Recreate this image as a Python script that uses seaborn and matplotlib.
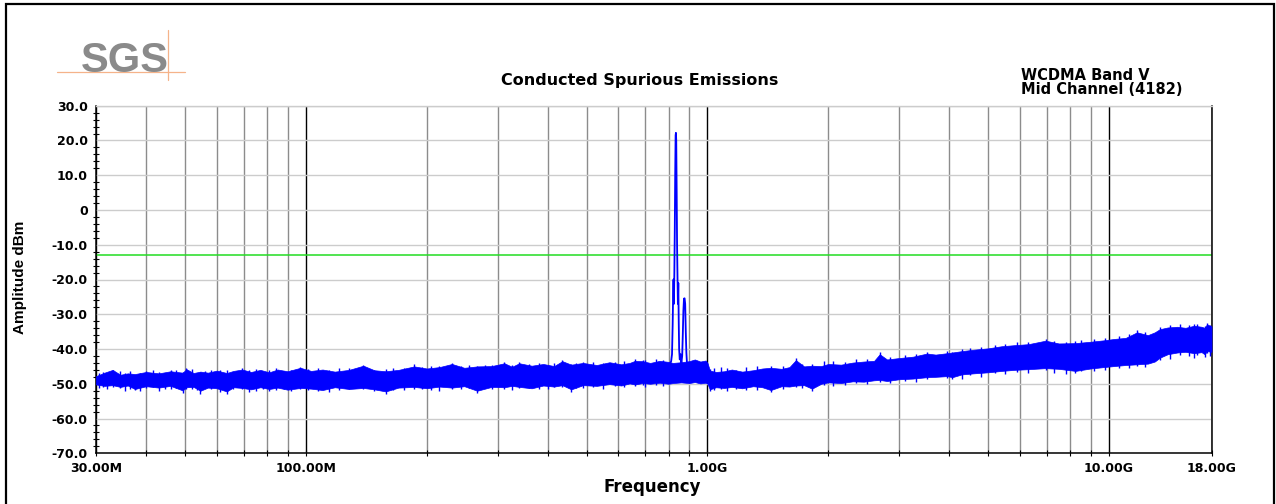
import matplotlib
matplotlib.use("Agg")
import matplotlib.pyplot as plt
import seaborn as sns
from matplotlib.ticker import FixedLocator, NullFormatter
import numpy as np

# data (frequency in MHz, level in dBm)
noise_freq_mhz = [30, 31.5, 33, 34.5, 36, 37.5, 40, 43, 46, 49.3,
                  50.4, 52.5, 54.6, 57, 60, 63.5, 66, 69.4, 73, 77,
                  81, 85, 90, 96.9, 103, 110, 118, 128, 139, 148,
                  158, 170, 186, 200, 215, 231, 248, 267, 290, 312,
                  326, 340, 365, 390, 415, 435, 458, 490, 530, 570,
                  610, 640, 660, 689, 720, 760, 800, 820, 860, 900,
                  930, 960, 990, 1000, 1014, 1050, 1100, 1150, 1220, 1300,
                  1370, 1438, 1530, 1600, 1660, 1740, 1821, 1920, 2000, 2150,
                  2300, 2450, 2600, 2685, 2800, 3000, 3250, 3522, 3700, 3951,
                  4073, 4300, 4600, 5000, 5400, 5800, 6300, 6951, 7500, 8250,
                  9000, 9700, 10300, 11000, 11745, 12500, 13000, 13380, 14000, 14800,
                  15500, 16300, 17000, 17300, 17545, 18000]
noise_hi_dbm = [-47.8, -46.8, -46.0, -47.4, -47.0, -47.2, -46.6, -47.0, -46.4, -46.8,
                -45.8, -46.9, -46.5, -46.8, -46.2, -46.9, -46.3, -45.9, -46.6, -46.0,
                -46.7, -45.9, -46.4, -45.4, -46.3, -45.9, -46.5, -46.0, -44.8, -46.1,
                -46.4, -46.0, -45.0, -45.6, -45.2, -44.3, -45.4, -45.0, -44.9, -44.1,
                -45.1, -44.1, -44.8, -44.3, -44.9, -43.5, -44.5, -44.0, -44.6, -43.8,
                -44.4, -44.0, -43.4, -43.5, -44.0, -43.4, -43.7, -44.0, -43.8, -43.5,
                -43.0, -43.6, -43.3, -44.0, -46.2, -46.6, -46.4, -45.9, -46.5, -46.1,
                -45.6, -45.4, -45.7, -45.2, -43.2, -45.0, -44.8, -44.9, -44.3, -44.5,
                -43.9, -43.6, -43.4, -41.5, -43.0, -42.6, -42.2, -41.3, -41.6, -41.2,
                -41.0, -40.6, -40.2, -39.8, -39.2, -38.9, -38.6, -37.6, -38.4, -38.3,
                -37.9, -37.5, -37.1, -36.8, -35.2, -36.0, -35.2, -34.3, -33.8, -33.6,
                -33.9, -33.3, -33.6, -33.9, -32.9, -33.5]
noise_lo_dbm = [-50.2, -50.6, -50.4, -50.9, -50.5, -51.5, -50.7, -51.1, -50.6, -51.9,
                -51.0, -50.9, -52.0, -51.1, -51.3, -52.2, -51.0, -51.2, -51.6, -51.0,
                -51.5, -51.1, -51.7, -51.2, -51.4, -51.8, -51.0, -51.5, -51.2, -51.6,
                -52.2, -51.1, -50.9, -51.3, -50.8, -51.1, -50.7, -52.0, -50.9, -51.0,
                -50.6, -50.9, -51.3, -50.5, -50.8, -50.4, -51.6, -50.4, -50.6, -50.1,
                -50.5, -49.9, -50.2, -49.8, -50.0, -49.7, -50.0, -49.8, -49.6, -49.8,
                -49.5, -49.9, -49.7, -50.0, -51.6, -51.0, -51.2, -50.9, -51.3, -50.7,
                -51.0, -51.8, -50.7, -50.8, -50.5, -50.4, -51.4, -50.0, -49.6, -49.8,
                -49.3, -49.4, -49.0, -48.9, -49.2, -48.7, -48.5, -48.1, -48.0, -47.8,
                -48.1, -47.3, -47.0, -46.7, -46.3, -46.0, -45.8, -45.5, -45.7, -46.3,
                -45.6, -45.2, -44.9, -44.6, -44.4, -44.2, -43.6, -42.5, -41.5, -41.0,
                -40.8, -41.2, -40.9, -41.5, -40.6, -40.8]

# individual sweep strokes that stick out of the noise band (min / max)
stroke_freq_mhz = [31.2, 33.0, 36.5, 38.5, 41.5, 44.5, 47.5, 49.3, 52, 54.6,
                   58, 63.5, 69.4, 75, 84, 92, 96.9, 107, 121, 139,
                   158, 165, 186, 205, 231, 255, 267, 280, 312, 340,
                   380, 435, 458, 470, 520, 590, 660, 689, 745, 1014,
                   1080, 1250, 1438, 1660, 1821, 1950, 2350, 2685, 3100, 3522,
                   3951, 4073, 4500, 5200, 5900, 6951, 8250, 8500, 10600, 11745,
                   13380, 15000, 16600, 17300, 17545,
                   30.5, 32, 34.5, 35.5, 37.5, 40, 43, 46, 50.4, 53.5,
                   56, 61, 66, 72, 78, 81, 88, 101, 114, 128,
                   148, 175, 195, 215, 243, 290, 326, 360, 400, 415,
                   490, 550, 620, 700, 775, 1040, 1120, 1180, 1330, 1540,
                   1720, 2050, 2200, 2500, 2850, 3300, 4300, 4800, 5500, 6300,
                   7300, 7800, 9200, 9800, 11200, 12300, 14200, 15800, 16300, 17800]
stroke_min_dbm = [-50.8, -51.0, -51.4, -52.2, -51.0, -51.6, -51.2, -52.6, -51.4, -52.9,
                  -51.5, -53.0, -51.6, -52.0, -51.8, -52.2, -51.6, -52.1, -51.8, -51.6,
                  -52.8, -51.7, -51.4, -51.7, -51.5, -51.2, -52.6, -51.3, -51.4, -51.3,
                  -51.6, -50.9, -52.3, -51.2, -51.0, -50.7, -50.6, -50.4, -50.3, -52.2,
                  -51.6, -51.7, -52.4, -51.0, -52.0, -50.4, -49.9, -49.4, -49.2, -48.6,
                  -48.4, -48.6, -47.6, -47.0, -46.5, -46.0, -47.0, -46.2, -45.4, -44.9,
                  -43.2, -41.6, -41.8, -42.2, -41.2,
                  -51.2, -51.6, -51.3, -52.0, -51.8, -51.2, -52.1, -51.4, -51.6, -51.9,
                  -51.3, -52.4, -51.5, -52.3, -51.4, -52.0, -51.6, -51.9, -52.3, -51.5,
                  -52.1, -51.8, -51.6, -52.0, -51.4, -51.6, -51.9, -51.2, -51.5, -51.0,
                  -51.2, -51.4, -50.9, -50.8, -50.5, -51.7, -52.0, -51.4, -51.8, -51.5,
                  -51.3, -50.6, -50.4, -50.1, -49.8, -49.4, -48.5, -48.0, -47.3, -47.0,
                  -46.8, -47.2, -46.4, -46.0, -45.6, -45.3, -42.8, -42.0, -42.5, -42.1]
stroke_max_dbm = [-46.5, -45.9, -46.3, -47.0, -45.9, -46.8, -46.0, -46.5, -45.8, -46.6,
                  -45.9, -46.1, -45.6, -45.8, -45.5, -46.0, -45.1, -45.6, -45.4, -44.5,
                  -45.8, -45.5, -44.4, -44.9, -44.0, -44.5, -45.0, -44.6, -43.8, -43.7,
                  -44.0, -43.2, -44.2, -43.9, -43.8, -43.6, -43.0, -43.1, -43.0, -45.8,
                  -45.3, -45.2, -45.0, -42.6, -44.4, -43.5, -43.0, -40.9, -41.6, -40.8,
                  -40.6, -40.8, -39.6, -38.7, -38.1, -37.2, -37.8, -37.4, -36.3, -34.6,
                  -33.8, -32.9, -32.8, -33.4, -32.4,
                  -46.9, -47.2, -46.4, -46.9, -47.4, -46.3, -46.7, -45.9, -45.6, -46.9,
                  -46.2, -45.9, -46.5, -46.0, -46.6, -45.9, -46.2, -45.7, -46.0, -45.6,
                  -45.9, -45.4, -45.3, -44.8, -44.9, -44.5, -44.6, -44.2, -44.5, -43.9,
                  -43.6, -43.9, -43.4, -43.3, -43.2, -45.6, -45.5, -45.9, -44.9, -44.8,
                  -44.2, -43.5, -43.8, -42.8, -42.4, -41.3, -40.1, -39.5, -38.6, -37.9,
                  -37.6, -37.9, -37.1, -36.9, -35.6, -35.2, -33.0, -33.2, -32.9, -33.0]

# carrier (Band V mid channel) and the emission next to it
carrier_freq_mhz = [805, 812, 816, 819, 821, 823, 825, 827, 829, 831,
                    833, 834.5, 836, 838, 840, 842, 844, 846, 848, 850,
                    853, 857, 861, 865, 868, 871, 874, 877, 880, 883,
                    886, 890, 895]
carrier_dbm = [-44.5, -43.5, -41.5, -33, -25, -20, -27, -18, -6, 10,
               21.5, 22.2, 20, 6, -10, -19, -27, -21, -32, -40,
               -43, -41.5, -44, -42, -36, -29, -25.5, -25.4, -27, -35,
               -41, -45, -44]

limit_dbm = -13

x_major = [30, 100, 1000, 10000, 18000]
x_tick_labels = ["30.00M", "100.00M", "1.00G", "10.00G", "18.00G"]
x_minor = [40, 50, 60, 70, 80, 90, 200, 300, 400, 500, 600, 700, 800, 900,
           2000, 3000, 4000, 5000, 6000, 7000, 8000, 9000]
y_major = [30, 20, 10, 0, -10, -20, -30, -40, -50, -60, -70]
y_tick_labels = ["30.0", "20.0", "10.0", "0", "-10.0", "-20.0", "-30.0",
                 "-40.0", "-50.0", "-60.0", "-70.0"]

assert len(noise_freq_mhz) == len(noise_hi_dbm) == len(noise_lo_dbm)
assert len(stroke_freq_mhz) == len(stroke_min_dbm) == len(stroke_max_dbm)

sns.set_style("white")
plt.rcParams["font.family"] = ["DejaVu Sans"]
plt.rcParams["font.weight"] = "bold"
plt.rcParams["text.color"] = "black"
plt.rcParams["axes.labelcolor"] = "black"
plt.rcParams["xtick.color"] = "black"
plt.rcParams["ytick.color"] = "black"

W, H = 1276, 504
fig = plt.figure(figsize=(W / 100, H / 100), dpi=100)
# plot area in pixels: x 96..1211.5, y 105.7..453.3
ax = fig.add_axes([96 / W, 1 - 453.3 / H, (1211.5 - 96) / W, (453.3 - 105.7) / H])

blue = "#0000ff"
ax.fill_between(noise_freq_mhz, noise_lo_dbm, noise_hi_dbm, color=blue,
                lw=0.5, zorder=3)
ax.vlines(stroke_freq_mhz, stroke_min_dbm, stroke_max_dbm, color=blue,
          lw=1.0, zorder=3)
sns.lineplot(x=carrier_freq_mhz, y=carrier_dbm, ax=ax, color=blue, lw=1.3,
             estimator=None, sort=False, zorder=4)
ax.axhline(limit_dbm, color="#22dd22", lw=1.1, zorder=2)

ax.set_xscale("log")
ax.set_xlim(30, 18000)
ax.set_ylim(-70, 30)
ax.set_xticks(x_major, x_tick_labels)
ax.xaxis.set_minor_locator(FixedLocator(x_minor))
ax.xaxis.set_minor_formatter(NullFormatter())
ax.set_yticks(y_major, y_tick_labels)
ax.yaxis.set_minor_locator(FixedLocator(np.arange(-70, 31, 2)))

ax.set_axisbelow(True)
ax.grid(True, which="major", axis="x", color="black", lw=1.0)
ax.grid(True, which="minor", axis="x", color="#8c8c8c", lw=1.0)
ax.grid(True, which="major", axis="y", color="#cccccc", lw=1.0)

ax.tick_params(axis="y", which="major", direction="inout", length=8,
               width=1.0, pad=2, labelsize=9, color="black")
ax.tick_params(axis="y", which="minor", direction="inout", length=5,
               width=0.8, color="black", left=True)
ax.tick_params(axis="x", which="both", direction="inout", length=5,
               width=0.8, pad=3.5, labelsize=9, color="black", bottom=True)

for side in ["left", "bottom", "right"]:
    ax.spines[side].set_color("black")
    ax.spines[side].set_linewidth(1.1)
ax.spines["top"].set_color("#cccccc")
ax.spines["top"].set_linewidth(1.0)

ax.set_xlabel("Frequency", fontsize=12, fontweight="bold")
ax.xaxis.set_label_coords(0.4984, -0.071)
ax.set_ylabel("Amplitude dBm", fontsize=11, fontweight="bold",
              family="Liberation Sans")
ax.yaxis.set_label_coords(-0.062, 0.507)

def fy(y):
    return 1 - y / H

fig.text(640 / W, fy(84.7), "Conducted Spurious Emissions", ha="center",
         va="baseline", fontsize=11.5)
fig.text(1021 / W, fy(79.5), "WCDMA Band V", ha="left", va="baseline",
         fontsize=10.5)
fig.text(1021 / W, fy(94), "Mid Channel (4182)", ha="left", va="baseline",
         fontsize=10.5)

# SGS logo
fig.text(125 / W, fy(72), "SGS", ha="center", va="baseline", fontsize=30,
         color="#8a8a8a", fontweight="bold", family="Liberation Sans")
fig.add_artist(plt.Line2D([57 / W, 185 / W], [fy(72.3), fy(72.3)],
                          transform=fig.transFigure, color="#f5b38a", lw=0.9))
fig.add_artist(plt.Line2D([167.7 / W, 167.7 / W], [fy(30), fy(80)],
                          transform=fig.transFigure, color="#f5b38a", lw=0.9))

# outer frame (bottom edge falls outside the picture)
fig.add_artist(plt.Rectangle((5.7 / W, fy(520)), (1274 - 5.7) / W,
                             (520 - 4.3) / H, transform=fig.transFigure,
                             fill=False, edgecolor="black", lw=1.6))

fig.savefig("out.png", dpi=100)
